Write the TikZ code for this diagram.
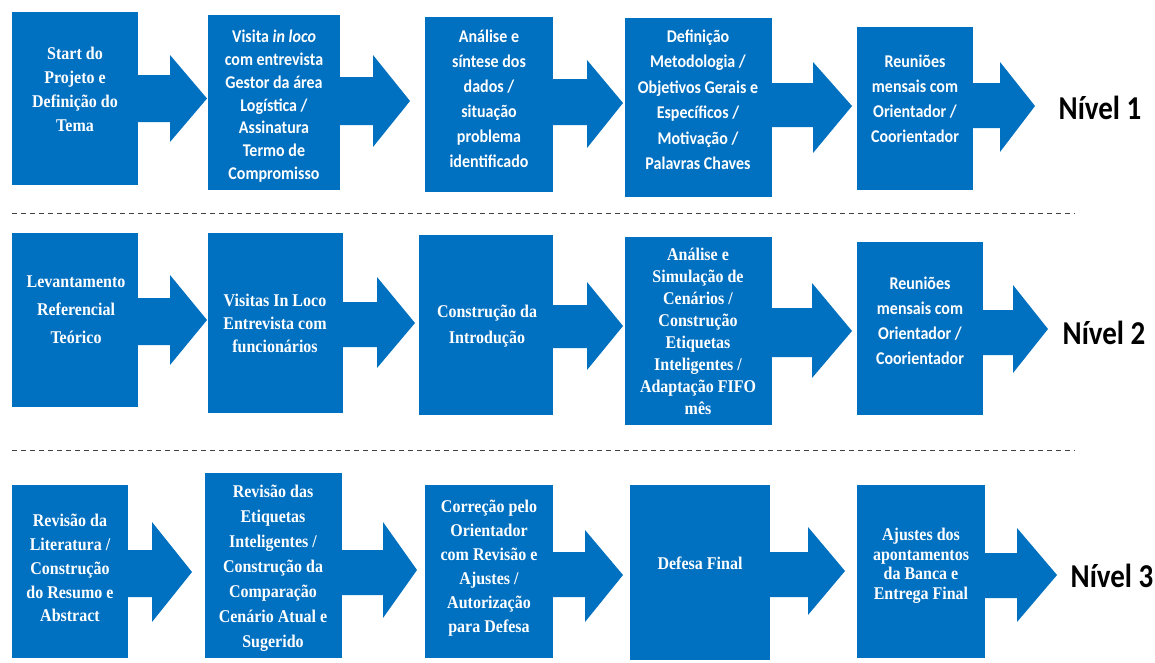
\documentclass[tikz,border=0pt]{standalone}
\usepackage{graphicx}
\usepackage{fontspec}
\setmainfont{Liberation Serif}
\newfontfamily\calib{Carlito}
\definecolor{boxblue}{RGB}{0,112,192}
\newcommand\TT[1]{\bfseries\fontsize{16}{#1}\selectfont}
\newcommand\CC[1]{\calib\bfseries\fontsize{16}{#1}\selectfont}
\newcommand\stk[2]{\scalebox{1}[1.12]{#1\begin{tabular}{@{}c@{}}#2\end{tabular}}}
\newcommand\bx[5]{\node[boxnode,minimum width={(#4-#2)*1pt},minimum height={(#5-#3)*1pt}] (#1) at ({(#2+#4)/2},{(#3+#5)/2}) {};}
% #1 from node, #2 shaft top, #3 shaft bottom, #4 head x, #5 head top, #6 head bottom, #7 tip x, #8 tip y
\newcommand\barrow[8]{\fill[boxblue] (#1.east |- 0,#2) -- (#4,#2) -- (#4,#5) -- (#7,#8) -- (#4,#6) -- (#4,#3) -- (#1.east |- 0,#3) -- cycle;}
\tikzset{
  boxnode/.style={fill=boxblue,draw=none,inner sep=0pt,outer sep=0pt,rectangle},
  txt/.style={text=white,inner sep=0pt,align=center},
  lvl/.style={text=black,inner sep=0pt},
  sep/.style={draw=black!75,line width=0.8pt,dash pattern=on 5pt off 4pt}
}
\begin{document}
\begin{tikzpicture}[x=1pt,y=-1pt]
\useasboundingbox (0,0) rectangle (1155,662);
\fill[white] (0,0) rectangle (1155,662);
% ---------------- Row 1
\bx{b11}{12}{12}{138}{185}
\bx{b12}{208}{15}{340}{190}
\bx{b13}{425}{17}{553}{192}
\bx{b14}{625}{18}{772}{197}
\bx{b15}{857}{27}{973}{190}
\barrow{b11}{75}{122}{170}{55}{142}{207}{98.5}
\barrow{b12}{77}{125}{373}{55}{147}{410}{101}
\barrow{b13}{79}{125}{587}{60}{148}{623}{103}
\barrow{b14}{83}{127}{813}{62}{153}{852}{106}
\barrow{b15}{83}{128}{1000}{62}{152}{1035}{106}
\node[txt] (t11) at (75,91) {\stk{\TT{21.4}}{Start do\\Projeto e\\Definição do\\Tema}};
\node[txt] (t12) at (274,106.5) {\stk{\CC{20.4}}{Visita \textit{in loco}\\com entrevista\\Gestor da área\\Logística /\\Assinatura\\Termo de\\Compromisso}};
\node[txt] (t13) at (489,100) {\stk{\CC{22.3}}{Análise e\\síntese dos\\dados /\\situação\\problema\\identificado}};
\node[txt] (t14) at (698,101) {\stk{\CC{22.8}}{Definição\\Metodologia /\\Objetivos Gerais e\\Específicos /\\Motivação /\\Palavras Chaves}};
\node[txt] (t15) at (915,100) {\stk{\CC{22.3}}{Reuniões\\mensais com\\Orientador /\\Coorientador}};
\node[lvl] (l1) at (1100,107.5) {\scalebox{1}[1.15]{\calib\bfseries\fontsize{29}{29}\selectfont Nível 1}};
\coordinate (s1a) at (12,213);
\coordinate (s1b) at (1075,213);
\draw[sep] (s1a) -- (s1b);
% ---------------- Row 2
\bx{b21}{12}{233}{138}{407}
\bx{b22}{208}{233}{343}{413}
\bx{b23}{419}{235}{553}{415}
\bx{b24}{625}{237}{772}{425}
\bx{b25}{857}{242}{983}{415}
\barrow{b21}{298}{345}{170}{275}{365}{207}{320}
\barrow{b22}{302}{347}{377}{277}{368}{415}{323}
\barrow{b23}{305}{348}{587}{282}{370}{623}{326}
\barrow{b24}{308}{357}{812}{283}{378}{852}{331}
\barrow{b25}{310}{355}{1013}{285}{373}{1048}{329}
\node[txt] (t21) at (76,310) {\stk{\TT{25}}{Levantamento\\Referencial\\Teórico}};
\node[txt] (t22) at (275,325) {\stk{\TT{20.1}}{Visitas In Loco\\Entrevista com\\funcionários}};
\node[txt] (t23) at (487,325) {\stk{\TT{23.2}}{Construção da\\Introdução}};
\node[txt] (t24) at (698,333) {\stk{\TT{19.55}}{Análise e\\Simulação de\\Cenários /\\Construção\\Etiquetas\\Inteligentes /\\Adaptação FIFO\\mês}};
\node[txt] (t25) at (920,322) {\stk{\CC{22.3}}{Reuniões\\mensais com\\Orientador /\\Coorientador}};
\node[lvl] (l2) at (1104,333) {\scalebox{1}[1.15]{\calib\bfseries\fontsize{29}{29}\selectfont Nível 2}};
\coordinate (s2a) at (12,450);
\coordinate (s2b) at (1075,450);
\draw[sep] (s2a) -- (s2b);
% ---------------- Row 3
\bx{b31}{12}{485}{128}{658}
\bx{b32}{205}{473}{342}{658}
\bx{b33}{425}{485}{553}{658}
\bx{b34}{630}{485}{770}{660}
\bx{b35}{857}{485}{985}{658}
\barrow{b31}{550}{597}{152}{522}{622}{192}{572}
\barrow{b32}{550}{595}{383}{522}{618}{417}{570}
\barrow{b33}{552}{597}{585}{530}{622}{623}{575}
\barrow{b34}{552}{597}{808}{527}{615}{845}{571}
\barrow{b35}{553}{598}{1017}{528}{622}{1057}{575}
\node[txt] (t31) at (70,569.5) {\stk{\TT{21.2}}{Revisão da\\Literatura /\\Construção\\do Resumo e\\Abstract}};
\node[txt] (t32) at (273,567.5) {\stk{\TT{22.3}}{Revisão das\\Etiquetas\\Inteligentes /\\Construção da\\Comparação\\Cenário Atual e\\Sugerido}};
\node[txt] (t33) at (489,568) {\stk{\TT{21.4}}{Correção pelo\\Orientador\\com Revisão e\\Ajustes /\\Autorização\\para Defesa}};
\node[txt] (t34) at (700,565) {\stk{\TT{20}}{Defesa Final}};
\node[txt] (t35) at (921,566) {\stk{\TT{17.4}}{Ajustes dos\\apontamentos\\da Banca e\\Entrega Final}};
\node[lvl] (l3) at (1112,576) {\scalebox{1}[1.15]{\calib\bfseries\fontsize{29}{29}\selectfont Nível 3}};
\end{tikzpicture}
\end{document}
